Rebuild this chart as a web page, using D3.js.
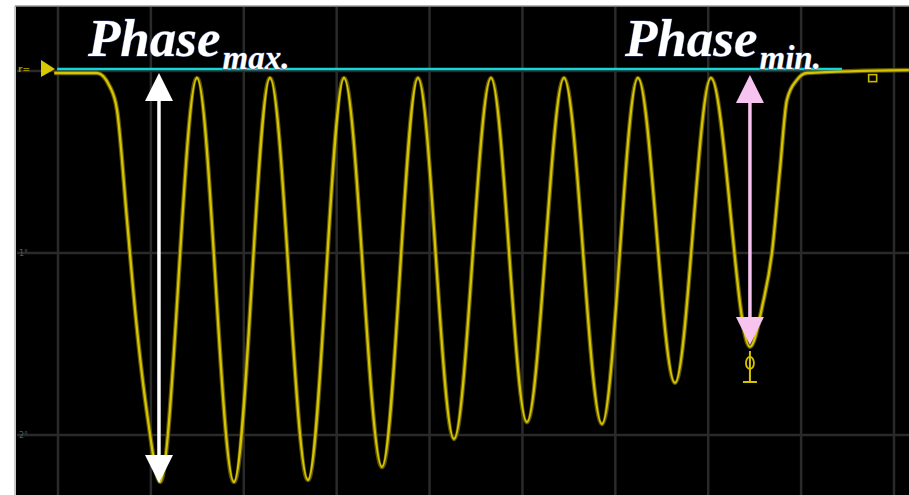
<!DOCTYPE html>
<html>
<head>
<meta charset="utf-8">
<script src="https://cdn.jsdelivr.net/npm/d3@7"></script>
<style>
  html, body { margin: 0; padding: 0; background: #fff; }
  svg { display: block; }
</style>
</head>
<body>
<script>
const wdth = 909;
const hght = 495;

// trace: time in divisions, level in divisions (0 = top graticule)
const traceT = [-0.04, 0.42, 0.56, 0.635, 0.743, 0.84, 0.969, 1.098,
  1.496, 1.894, 2.282, 2.691, 3.079, 3.488, 3.875, 4.263, 4.661, 5.048,
  5.447, 5.856, 6.243, 6.642, 7.029, 7.449,
  7.589, 7.686, 7.772, 7.847, 7.955, 8.062, 9.16];
const traceV = [-0.011, -0.011, -0.088, -0.214, -0.819, -1.368, -1.918, -2.258,
  -0.038, -2.258, -0.038, -2.247, -0.038, -2.176, -0.038, -2.022, -0.038, -1.929,
  -0.038, -1.940, -0.038, -1.714, -0.038, -1.516,
  -1.275, -1.0, -0.544, -0.159, -0.049, -0.011, 0.005];

// cyan reference level
const refLevel = 0.011;
const refSpan = [-0.01, 8.44];

// phase arrows: [time, top level, bottom level]
const arrowMax = [1.087, -0.011, -2.264];
const arrowMin = [7.449, -0.022, -1.505];

const yTickLabels = ["1\u00B0", "2\u00B0"];

const x = d3.scaleLinear().domain([0, 9]).range([58, 894]);
const y = d3.scaleLinear().domain([0, -2]).range([71, 435]);

const svg = d3.select("body").append("svg")
  .attr("width", wdth)
  .attr("height", hght);

// screen
svg.append("rect")
  .attr("x", 16).attr("y", 6)
  .attr("width", wdth - 16).attr("height", hght - 6)
  .attr("fill", "#000");

svg.append("line")
  .attr("x1", 15).attr("x2", 15).attr("y1", 6).attr("y2", hght)
  .attr("stroke", "#c8c8c8").attr("stroke-width", 2);
svg.append("line")
  .attr("x1", 15).attr("x2", wdth).attr("y1", 6).attr("y2", 6)
  .attr("stroke", "#9a9a9a").attr("stroke-width", 1.5);

// graticule
svg.append("g").selectAll("line")
  .data(d3.range(0, 10))
  .enter().append("line")
  .attr("x1", d => x(d)).attr("x2", d => x(d))
  .attr("y1", 7).attr("y2", hght)
  .attr("stroke", "#2a2a2a").attr("stroke-width", 2.5);

svg.append("g").selectAll("line")
  .data([0, -1, -2])
  .enter().append("line")
  .attr("x1", 17).attr("x2", wdth)
  .attr("y1", d => y(d)).attr("y2", d => y(d))
  .attr("stroke", "#2a2a2a").attr("stroke-width", 2.5);

svg.append("g").selectAll("text")
  .data(yTickLabels)
  .enter().append("text")
  .attr("x", 19)
  .attr("y", (d, i) => y(-(i + 1)) + 3)
  .attr("font-family", "DejaVu Sans")
  .attr("font-size", 8)
  .attr("fill", "#5a5a5a")
  .text(d => d);

// trigger marker
svg.append("text")
  .attr("x", 18).attr("y", 72)
  .attr("font-family", "DejaVu Sans").attr("font-weight", "bold")
  .attr("font-size", 9).attr("fill", "#9a8f00")
  .text("r=");
svg.append("path")
  .attr("d", d3.line()([[41, 60], [41, 77], [55, 69]]) + "Z")
  .attr("fill", "#d8c800");

// trace
const pts = traceT.map((t, i) => [t, traceV[i]]);
const traceLine = d3.line()
  .x(d => x(d[0]))
  .y(d => y(d[1]))
  .curve(d3.curveMonotoneX);

svg.append("path")
  .attr("d", traceLine(pts))
  .attr("fill", "none")
  .attr("stroke", "#5f5600")
  .attr("stroke-width", 4.5);
svg.append("path")
  .attr("d", traceLine(pts))
  .attr("fill", "none")
  .attr("stroke", "#d6c400")
  .attr("stroke-width", 2.3);

// cursor marks on the trace
const mx = x(arrowMin[0]);
const my = y(traceV[23]);
svg.append("path")
  .attr("d", "M" + mx + "," + (my + 4) + "V" + (my + 35) +
    "M" + (mx - 7) + "," + (my + 35) + "H" + (mx + 7))
  .attr("stroke", "#d6c400").attr("stroke-width", 2).attr("fill", "none");
svg.append("ellipse")
  .attr("cx", mx).attr("cy", my + 16).attr("rx", 4).attr("ry", 6)
  .attr("stroke", "#d6c400").attr("stroke-width", 1.8).attr("fill", "none");
svg.append("rect")
  .attr("x", x(8.77) - 4).attr("y", y(-0.02)).attr("width", 8).attr("height", 7)
  .attr("stroke", "#c8b800").attr("stroke-width", 1.6).attr("fill", "none");

// reference level
svg.append("line")
  .attr("x1", x(refSpan[0])).attr("x2", x(refSpan[1]))
  .attr("y1", y(refLevel)).attr("y2", y(refLevel))
  .attr("stroke", "#10d8d8").attr("stroke-width", 2.5);

// double arrows
function doubleArrow(a, color) {
  const ax = x(a[0]);
  const top = y(a[1]);
  const bot = y(a[2]);
  const hw = 14, hl = 28;
  const g = svg.append("g");
  g.append("line")
    .attr("x1", ax).attr("x2", ax)
    .attr("y1", top + hl - 2).attr("y2", bot - hl + 2)
    .attr("stroke", color).attr("stroke-width", 3.5);
  g.append("path")
    .attr("d", d3.line()([[ax, top], [ax - hw, top + hl], [ax + hw, top + hl]]) + "Z")
    .attr("fill", color);
  g.append("path")
    .attr("d", d3.line()([[ax, bot], [ax - hw, bot - hl], [ax + hw, bot - hl]]) + "Z")
    .attr("fill", color);
}
doubleArrow(arrowMax, "#ffffff");
doubleArrow(arrowMin, "#f7c4f0");

// labels
function phaseLabel(px, sub) {
  const t = svg.append("text")
    .attr("x", px).attr("y", 56)
    .attr("font-family", "Liberation Serif, Times New Roman, serif")
    .attr("font-style", "italic")
    .attr("font-weight", "bold")
    .attr("font-size", 53)
    .attr("fill", "#fff")
    .style("paint-order", "stroke")
    .attr("stroke", "#3a4a7a").attr("stroke-width", 1);
  t.append("tspan").text("Phase");
  t.append("tspan")
    .attr("dx", 2)
    .attr("dy", 13)
    .attr("font-size", 33)
    .text(sub);
}
phaseLabel(88, "max.");
phaseLabel(625, "min.");
</script>
</body>
</html>
